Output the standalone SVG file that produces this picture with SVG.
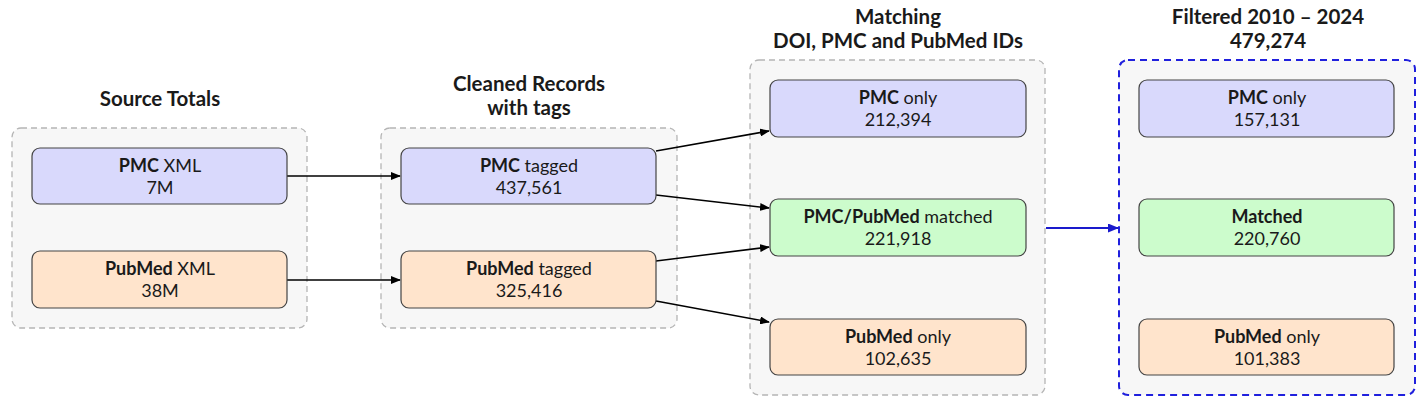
<svg xmlns="http://www.w3.org/2000/svg" width="1425" height="406" viewBox="0 0 1425 406">
<defs>
<style>
text{font-family:Lato,"Open Sans","DejaVu Sans",sans-serif;font-size:18px;fill:#1a1a1a;text-anchor:middle}
.b{font-weight:bold}
.t{font-weight:bold;font-size:20.5px}
.grp{fill:#f7f7f7;stroke:#b5b5b5;stroke-width:1.3;stroke-dasharray:6 4}
.grpb{fill:#f7f7f7;stroke:#2020dd;stroke-width:2;stroke-dasharray:7 5}
.blue{fill:#d9d9fc;stroke:#444;stroke-width:1.2}
.green{fill:#ccfccc;stroke:#444;stroke-width:1.2}
.orange{fill:#ffe4cc;stroke:#444;stroke-width:1.2}
.c{fill:none;stroke:#000;stroke-width:1.5;marker-end:url(#ah)}
.cb{fill:none;stroke:#1a1acc;stroke-width:1.8;marker-end:url(#ahb)}
</style>
<marker id="ah" markerWidth="10" markerHeight="8" refX="9" refY="4" orient="auto" markerUnits="userSpaceOnUse"><path d="M0,0 L10,4 L0,8 Z" fill="#000"/></marker>
<marker id="ahb" markerWidth="11" markerHeight="9" refX="10" refY="4.5" orient="auto" markerUnits="userSpaceOnUse"><path d="M0,0 L11,4.5 L0,9 Z" fill="#1a1acc"/></marker>
</defs>

<g id="group-source">
<rect class="grp" x="12" y="128" width="295" height="200" rx="9"/>
<text class="t" x="160" y="106">Source Totals</text>
</g>
<g id="group-cleaned">
<rect class="grp" x="381" y="128" width="296" height="200" rx="9"/>
<text class="t" x="529" y="91">Cleaned Records</text>
<text class="t" x="529" y="115">with tags</text>
</g>
<g id="group-matching">
<rect class="grp" x="750" y="60" width="295" height="335" rx="9"/>
<text class="t" x="898" y="24">Matching</text>
<text class="t" x="898" y="48">DOI, PMC and PubMed IDs</text>
</g>
<g id="group-filtered">
<rect class="grpb" x="1119" y="60" width="296" height="335" rx="9"/>
<text class="t" x="1268" y="24">Filtered 2010 – 2024</text>
<text class="t" x="1268" y="48">479,274</text>
</g>

<g id="connectors">
<line class="c" x1="287" y1="176" x2="400" y2="176"/>
<line class="c" x1="287" y1="280" x2="400" y2="280"/>
<line class="c" x1="656" y1="151" x2="769" y2="131"/>
<line class="c" x1="656" y1="195" x2="769" y2="208"/>
<line class="c" x1="656" y1="261" x2="769" y2="247"/>
<line class="c" x1="656" y1="301" x2="769" y2="322"/>
<line class="cb" x1="1046" y1="228" x2="1118" y2="228"/>
</g>

<g id="node-pmc-xml">
<rect class="blue" x="32" y="148" width="255" height="56" rx="8"/>
<text x="160" y="172"><tspan class="b">PMC</tspan> XML</text>
<text x="160" y="194">7M</text>
</g>
<g id="node-pubmed-xml">
<rect class="orange" x="32" y="251" width="255" height="57" rx="8"/>
<text x="160" y="275"><tspan class="b">PubMed</tspan> XML</text>
<text x="160" y="297">38M</text>
</g>
<g id="node-pmc-tagged">
<rect class="blue" x="401" y="148" width="255" height="56" rx="8"/>
<text x="529" y="172"><tspan class="b">PMC</tspan> tagged</text>
<text x="529" y="194">437,561</text>
</g>
<g id="node-pubmed-tagged">
<rect class="orange" x="401" y="251" width="255" height="57" rx="8"/>
<text x="529" y="275"><tspan class="b">PubMed</tspan> tagged</text>
<text x="529" y="297">325,416</text>
</g>
<g id="node-pmc-only">
<rect class="blue" x="770" y="80" width="256" height="57" rx="8"/>
<text x="898" y="104"><tspan class="b">PMC</tspan> only</text>
<text x="898" y="126">212,394</text>
</g>
<g id="node-matched">
<rect class="green" x="770" y="199" width="256" height="57" rx="8"/>
<text x="898" y="223"><tspan class="b">PMC/PubMed</tspan> matched</text>
<text x="898" y="245">221,918</text>
</g>
<g id="node-pubmed-only">
<rect class="orange" x="770" y="319" width="256" height="56" rx="8"/>
<text x="898" y="343"><tspan class="b">PubMed</tspan> only</text>
<text x="898" y="365">102,635</text>
</g>
<g id="node-f-pmc-only">
<rect class="blue" x="1139" y="80" width="255" height="57" rx="8"/>
<text x="1267" y="104"><tspan class="b">PMC</tspan> only</text>
<text x="1267" y="126">157,131</text>
</g>
<g id="node-f-matched">
<rect class="green" x="1139" y="199" width="255" height="57" rx="8"/>
<text x="1267" y="223"><tspan class="b">Matched</tspan></text>
<text x="1267" y="245">220,760</text>
</g>
<g id="node-f-pubmed-only">
<rect class="orange" x="1139" y="319" width="255" height="56" rx="8"/>
<text x="1267" y="343"><tspan class="b">PubMed</tspan> only</text>
<text x="1267" y="365">101,383</text>
</g>
</svg>
